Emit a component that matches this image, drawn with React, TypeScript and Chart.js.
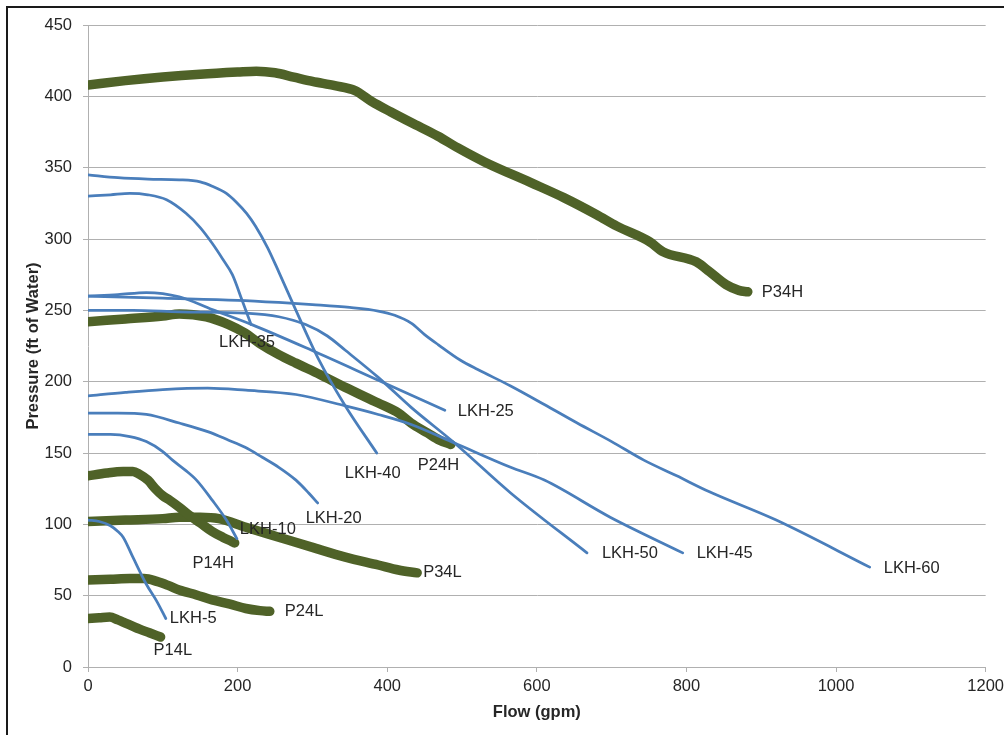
import React, { useEffect, useRef } from "react";
import { Chart, registerables } from "chart.js";

Chart.register(...registerables);

// ---- Data (Flow in gpm, Pressure in ft of water) ----
const xTicksMax = 1200;
const yTicksMax = 450;

const lkh5Flow = [0, 15, 30, 40, 47, 60, 78, 92, 104];
const lkh5Pressure = [103, 102, 99, 95, 91, 77, 58, 46, 34];

const lkh10Flow = [0, 30, 56, 78, 100, 113, 130, 145, 166, 185, 199];
const lkh10Pressure = [163, 163, 161.5, 158, 151, 145, 138, 131, 117, 103, 90];

const lkh20Flow = [0, 40, 78, 122, 160, 188, 210, 233, 255, 278, 295, 307];
const lkh20Pressure = [178, 178, 177, 171, 165, 159, 154, 147, 140, 131, 122, 115];

const lkh25Flow = [0, 40, 78, 122, 166, 219, 299, 388, 477];
const lkh25Pressure = [260, 261, 262.5, 259.5, 250.5, 240, 222, 201, 180];

const lkh35Flow = [0, 30, 56, 80, 105, 131, 150, 166, 180, 193, 206, 218];
const lkh35Pressure = [330, 331, 332, 331, 327.5, 318, 308, 297, 286, 275, 257, 240];

const lkh40Flow = [0, 40, 80, 122, 150, 166, 185, 198, 212, 224, 240, 255, 278, 308, 344, 386];
const lkh40Pressure = [345, 343, 342, 341.5, 340, 337, 332, 326, 318, 309, 294, 277, 250, 216, 183, 150];

const lkh45Flow = [0, 50, 100, 160, 211, 278, 344, 388, 432, 490, 565, 610, 698, 795];
const lkh45Pressure = [190, 192.5, 194.5, 195.5, 194, 191, 183, 177, 170, 157, 140, 131, 105, 80];

const lkh50Flow = [0, 60, 122, 211, 255, 291, 320, 344, 388, 432, 490, 565, 667];
const lkh50Pressure = [250, 250, 249, 248, 245.5, 240, 232, 222, 203, 182, 157, 122, 80];

const lkh60Flow = [0, 100, 200, 255, 300, 350, 388, 410, 432, 450, 468, 498, 521, 565, 610, 654, 700, 743, 787, 830, 920, 1045];
const lkh60Pressure = [260, 258.5, 257, 255.5, 254, 252, 249.5, 246.5, 241, 233, 226, 215, 208.5, 197, 184, 171, 158, 145, 134, 123, 103, 70];

const p14lFlow = [0, 15, 29, 40, 47, 58, 69, 82, 97];
const p14lPressure = [34, 34.5, 35, 33, 31.5, 29, 26.5, 24, 21];

const p24lFlow = [0, 30, 56, 75, 92, 108, 122, 145, 166, 190, 211, 230, 243];
const p24lPressure = [61, 61.5, 62, 62, 60, 57, 54, 50.5, 47, 44, 41, 39.5, 39];

const p14hFlow = [0, 25, 47, 60, 69, 80, 90, 100, 109, 122, 135, 150, 166, 180, 192, 196];
const p14hPressure = [134, 136, 137, 137, 135, 131, 125, 120, 117, 112, 106.5, 101, 95, 91, 88, 87];

const p34lFlow = [0, 50, 100, 122, 150, 175, 211, 255, 299, 344, 388, 415, 440];
const p34lPressure = [102, 103, 104, 105, 105, 104, 98, 91, 84, 77, 71.5, 68, 66];

const p24hFlow = [0, 50, 100, 122, 158, 188, 210, 229, 255, 278, 310, 344, 388, 415, 432, 454, 470, 485];
const p24hPressure = [242, 244, 246, 247.5, 245.5, 240, 234, 227, 219, 213, 205, 196, 185, 178, 171, 164, 159, 156];

const p34hFlow = [0, 50, 100, 150, 200, 225, 250, 275, 300, 330, 357, 379, 405, 432, 468, 494, 530, 592, 636, 680, 707, 751, 769, 813, 831, 853, 870, 882];
const p34hPressure = [408, 411, 413.5, 415.5, 417, 417.6, 416.5, 413.5, 410.5, 407.5, 404, 396.5, 389, 381.6, 372, 364, 354, 339.5, 329, 317, 309, 298, 291, 284, 277, 268, 264, 263];

const blueSeries: [string, number[], number[]][] = [
  ["LKH-5", lkh5Flow, lkh5Pressure],
  ["LKH-10", lkh10Flow, lkh10Pressure],
  ["LKH-20", lkh20Flow, lkh20Pressure],
  ["LKH-25", lkh25Flow, lkh25Pressure],
  ["LKH-35", lkh35Flow, lkh35Pressure],
  ["LKH-40", lkh40Flow, lkh40Pressure],
  ["LKH-45", lkh45Flow, lkh45Pressure],
  ["LKH-50", lkh50Flow, lkh50Pressure],
  ["LKH-60", lkh60Flow, lkh60Pressure],
];

const greenSeries: [string, number[], number[]][] = [
  ["P14L", p14lFlow, p14lPressure],
  ["P24L", p24lFlow, p24lPressure],
  ["P14H", p14hFlow, p14hPressure],
  ["P34L", p34lFlow, p34lPressure],
  ["P24H", p24hFlow, p24hPressure],
  ["P34H", p34hFlow, p34hPressure],
];

// ---- Styles ----
const BLUE = "#4a7ebb";
const GREEN = "#4f6228";
const FONT = '"Liberation Sans", Arial, Helvetica, sans-serif';
const TEXT = "#262626";
const GRID = "#b0b0b0";
const FS = 16.5;

// label offsets relative to each series' last point [dx of text left edge, dy of text center]
const labelOffsets: Record<string, [number, number]> = {
  "P34H": [14, 1],
  "LKH-35": [-32, 18],
  "LKH-25": [13, 1],
  "LKH-40": [-32, 20],
  "P24H": [-33, 21],
  "LKH-20": [-12, 16],
  "LKH-10": [3, -9],
  "P14H": [-42, 21],
  "P34L": [6, 0],
  "LKH-5": [4, 0],
  "P24L": [15, 0],
  "P14L": [-7, 13],
  "LKH-50": [15, 1],
  "LKH-45": [14, 1],
  "LKH-60": [14, 1],
};

const endLabels = {
  id: "endLabels",
  afterDatasetsDraw(chart: any) {
    const ctx = chart.ctx;
    ctx.save();
    ctx.font = `${FS}px ${FONT}`;
    ctx.fillStyle = TEXT;
    ctx.textAlign = "left";
    ctx.textBaseline = "middle";
    chart.data.datasets.forEach((ds: any, i: number) => {
      const meta = chart.getDatasetMeta(i);
      const pt = meta.data[meta.data.length - 1];
      if (!pt) return;
      const off = labelOffsets[ds.label] || [10, 0];
      ctx.fillText(ds.label, pt.x + off[0], pt.y + off[1]);
    });
    ctx.restore();
  },
};

function toPoints(xs: number[], ys: number[]) {
  return xs.map((x, i) => ({ x, y: ys[i] }));
}

export default function App() {
  const canvasRef = useRef<HTMLCanvasElement | null>(null);

  useEffect(() => {
    if (!canvasRef.current) return;
    const datasets: any[] = [];
    blueSeries.forEach(([name, xs, ys]) => {
      datasets.push({
        label: name,
        data: toPoints(xs, ys),
        borderColor: BLUE,
        borderWidth: 2.75,
        pointRadius: 0,
        cubicInterpolationMode: "monotone",
        borderCapStyle: "round",
        borderJoinStyle: "round",
        fill: false,
      });
    });
    greenSeries.forEach(([name, xs, ys]) => {
      datasets.push({
        label: name,
        data: toPoints(xs, ys),
        borderColor: GREEN,
        borderWidth: 9.5,
        pointRadius: 0,
        cubicInterpolationMode: "monotone",
        borderCapStyle: "round",
        borderJoinStyle: "round",
        fill: false,
        clip: { left: 0, top: 20, right: 20, bottom: 20 },
      });
    });

    const chart = new Chart(canvasRef.current, {
      type: "line",
      data: { datasets },
      plugins: [endLabels],
      options: {
        animation: false,
        responsive: false,
        layout: { padding: { top: 25, right: 0, left: 0, bottom: 0 } },
        plugins: {
          legend: { display: false },
          tooltip: { enabled: false },
        },
        scales: {
          x: {
            type: "linear",
            min: 0,
            max: xTicksMax,
            ticks: {
              stepSize: 200,
              color: TEXT,
              font: { family: FONT, size: FS },
              padding: 5,
              maxRotation: 0,
              callback: (v: any) => String(v),
            },
            grid: {
              drawOnChartArea: false,
              drawTicks: true,
              tickLength: 5,
              color: GRID,
            },
            border: { color: GRID, width: 1 },
            title: {
              display: true,
              text: "Flow (gpm)",
              color: TEXT,
              font: { family: FONT, size: FS, weight: "bold" },
              padding: { top: 4, bottom: 13 },
            },
            afterFit: (axis: any) => {
              axis.height = 68;
            },
          },
          y: {
            type: "linear",
            min: 0,
            max: yTicksMax,
            ticks: {
              stepSize: 50,
              color: TEXT,
              font: { family: FONT, size: FS },
              padding: 11,
              callback: (v: any) => String(v),
            },
            grid: {
              drawOnChartArea: true,
              drawTicks: true,
              tickLength: 5,
              color: GRID,
            },
            border: { color: GRID, width: 1 },
            title: {
              display: true,
              text: "Pressure (ft of Water)",
              color: TEXT,
              font: { family: FONT, size: FS, weight: "bold" },
              padding: { top: 24, bottom: 4 },
            },
            afterFit: (axis: any) => {
              axis.width = 88;
            },
          },
        },
      } as any,
    });
    return () => chart.destroy();
  }, []);

  return (
    <div
      style={{
        position: "fixed",
        left: 0,
        top: 0,
        width: 1004,
        height: 735,
        overflow: "hidden",
        background: "#fff",
      }}
    >
      <div
        style={{
          position: "absolute",
          left: 6,
          top: 6,
          width: 1030,
          height: 760,
          border: "2px solid #1a1a1a",
          boxSizing: "border-box",
        }}
      />
      <canvas
        ref={canvasRef}
        width={1009}
        height={735}
        style={{ position: "absolute", left: 0, top: 0, width: 1009, height: 735 }}
      />
    </div>
  );
}
